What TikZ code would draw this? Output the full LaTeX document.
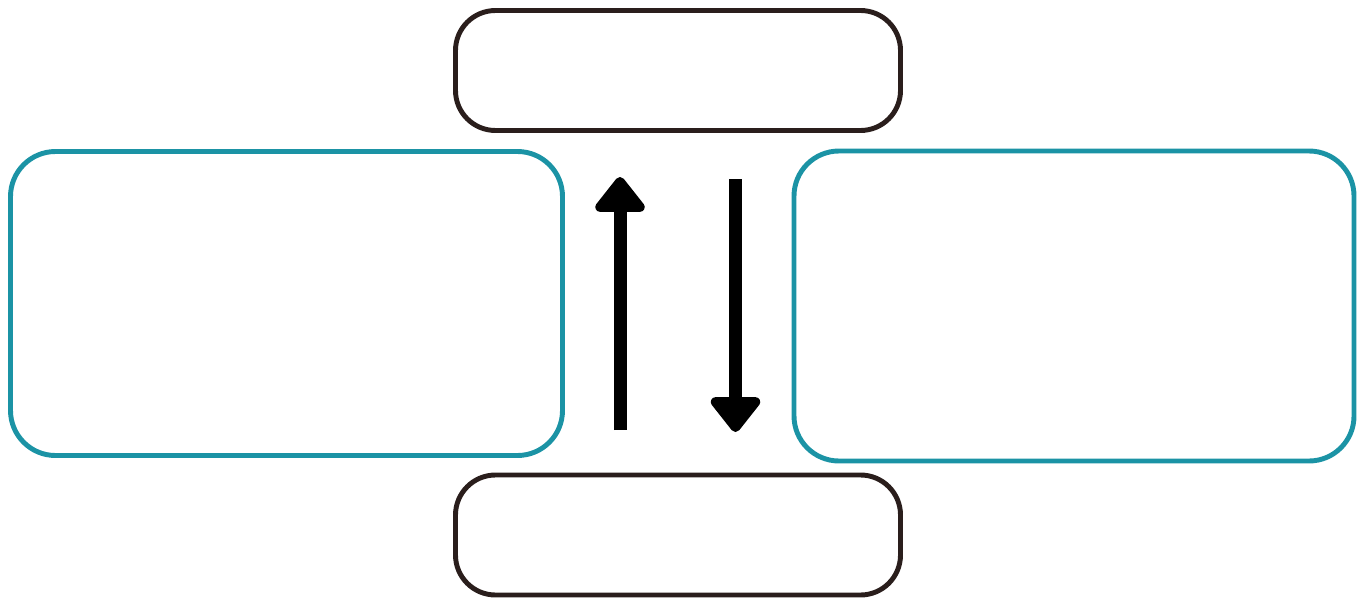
\documentclass[tikz,border=0pt]{standalone}
\usepackage{tikz}
\usetikzlibrary{arrows.meta}

\definecolor{tealline}{HTML}{1B93A5}
\definecolor{brownline}{HTML}{2A1E1C}

\begin{document}
\begin{tikzpicture}[>=Stealth,
  small/.style={draw=brownline, line width=2.8pt, rounded corners=0.8cm,
    minimum width=8.9cm, minimum height=2.4cm, inner sep=0pt},
  big/.style={draw=tealline, line width=2.8pt, rounded corners=0.9cm,
    inner sep=0pt},
  flow/.style={line width=7.4pt,
    -{Triangle[width=1.14cm,length=0.76cm,round]}},
]
\useasboundingbox (0,0) rectangle (27.26,11.94);

% Boxes
\node[small] (top) at (13.56,10.53) {};
\node[small] (bottom) at (13.56,1.24) {};
\node[big, minimum width=11.04cm, minimum height=6.08cm] (left) at (5.73,5.87) {};
\node[big, minimum width=11.2cm, minimum height=6.2cm] (right) at (21.48,5.82) {};

% Arrows
\coordinate (upfrom) at (12.4,3.34);
\coordinate (upto) at (12.4,8.4);
\coordinate (downfrom) at (14.71,8.36);
\coordinate (downto) at (14.71,3.30);
\draw[flow] (upfrom) -- (upto);
\draw[flow] (downfrom) -- (downto);

\end{tikzpicture}
\end{document}
